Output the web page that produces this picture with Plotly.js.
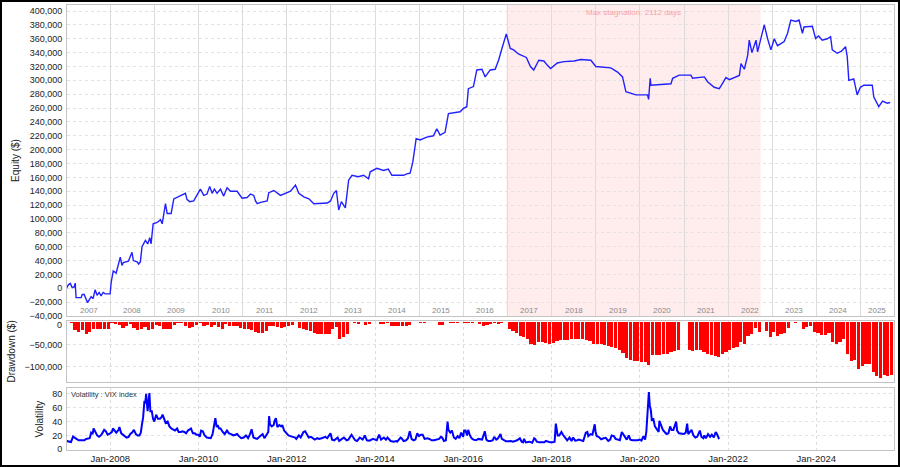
<!DOCTYPE html>
<html><head><meta charset="utf-8">
<script src="https://cdn.plot.ly/plotly-3.0.1.min.js"></script>
<style>
html,body{margin:0;padding:0;background:#fff}
#wrap{position:relative;width:900px;height:467px}
#chart{width:900px;height:467px}
#frame{position:absolute;left:0;top:0;width:900px;height:467px;border:2px solid #000;box-sizing:border-box;pointer-events:none}
</style>
</head><body><div id="wrap"><div id="chart"></div><div id="frame"></div></div>
<script>
// ---------- Equity curve ----------
const equityDates = [
"2007-01-03","2007-01-19","2007-02-04","2007-02-20","2007-03-08","2007-03-17","2007-03-24","2007-05-05","2007-05-14","2007-05-30",
"2007-06-27","2007-07-10","2007-07-27","2007-08-12","2007-08-29","2007-09-14","2007-10-01","2007-10-17","2007-11-03","2007-11-20",
"2007-12-31","2008-01-09","2008-01-26","2008-02-19","2008-03-24","2008-04-07","2008-04-18","2008-05-30","2008-06-29","2008-07-10",
"2008-08-10","2008-08-23","2008-09-06","2008-09-20","2008-10-18","2008-11-06","2008-11-23","2008-12-04","2008-12-21","2009-01-23",
"2009-02-20","2009-03-06","2009-03-19","2009-04-02","2009-04-16","2009-05-19","2009-06-10","2009-07-08","2009-08-04","2009-09-14",
"2009-09-28","2009-10-20","2009-11-22","2009-12-20","2010-01-16","2010-02-13","2010-03-12","2010-04-03","2010-04-23","2010-05-12",
"2010-06-03","2010-07-01","2010-07-28","2010-08-25","2010-09-22","2010-11-16","2010-12-27","2011-02-07","2011-03-07","2011-04-03",
"2011-04-17","2011-05-01","2011-05-29","2011-07-23","2011-08-05","2011-09-16","2011-11-10","2012-02-01","2012-03-13","2012-04-10",
"2012-04-24","2012-05-21","2012-07-02","2012-08-12","2012-12-01","2012-12-28","2013-01-24","2013-02-15","2013-03-06","2013-03-28",
"2013-04-30","2013-05-27","2013-06-24","2013-08-15","2013-09-28","2013-11-08","2013-11-22","2014-01-16","2014-03-12","2014-04-20",
"2014-05-20","2014-08-24","2014-09-21","2014-10-18","2014-11-09","2014-12-07","2015-01-09","2015-03-05","2015-04-29","2015-05-27",
"2015-06-23","2015-08-03","2015-08-31","2015-12-06","2016-01-02","2016-01-30","2016-02-12","2016-03-25","2016-04-22","2016-06-03",
"2016-06-30","2016-08-11","2016-09-21","2016-10-19","2016-11-16","2016-12-22","2017-01-24","2017-02-21","2017-04-01","2017-05-01",
"2017-06-06","2017-07-10","2017-08-06","2017-09-17","2017-10-29","2017-11-26","2017-12-24","2018-02-17","2018-04-13","2018-07-06",
"2018-08-31","2018-11-22","2019-01-02","2019-05-06","2019-07-01","2019-08-11","2019-09-08","2019-11-30","2020-03-05","2020-03-14",
"2020-03-27","2020-04-02","2020-06-10","2020-09-15","2020-09-29","2020-11-22","2021-02-27","2021-03-13","2021-06-18","2021-07-15",
"2021-09-08","2021-10-20","2021-11-17","2021-12-14","2022-01-11","2022-04-04","2022-04-18","2022-05-15","2022-06-12","2022-06-25",
"2022-07-17","2022-08-20","2022-09-02","2022-09-30","2022-10-27","2022-11-24","2022-12-21","2023-01-18","2023-02-14","2023-04-10",
"2023-05-08","2023-06-04","2023-07-15","2023-08-11","2023-09-08","2023-09-21","2023-11-29","2023-12-26","2024-01-20","2024-02-19",
"2024-04-01","2024-04-28","2024-05-12","2024-06-22","2024-07-27","2024-08-30","2024-09-13","2024-09-26","2024-11-06","2024-12-04",
"2024-12-31","2025-01-28","2025-04-08","2025-04-21","2025-06-01","2025-07-02","2025-08-10","2025-09-03"];
const equityValues = [
0,5000,7000,1000,2000,7500,-13500,-13500,-9000,-9000,
-20700,-16000,-12000,-15000,-2000,-10000,-6000,-11000,-6000,-8000,
-8000,9000,25000,22000,45000,33000,37000,39000,52000,40000,
38000,35000,38000,60000,69000,64000,73000,64000,93000,95000,
99000,93000,108000,122000,108000,108000,129000,131000,133000,137000,
128000,125000,126000,134000,143000,134000,136000,147000,137000,143000,
137000,143000,133000,145000,140000,140000,130000,131000,136000,134000,
126000,122000,124000,126000,138000,141000,134000,140000,149000,137000,
135000,132000,129000,122000,123000,126000,137000,141000,113000,125000,
116000,156000,163000,161000,163000,158000,168000,173000,170000,172000,
163000,163000,165000,166000,182000,216000,214000,218000,220000,230000,
221000,225000,252000,254600,259500,262000,288000,291000,315000,316000,
305000,315000,316000,329000,346000,367000,346000,344000,338000,336000,
333000,320000,315000,329000,328000,322000,317000,325000,327000,328000,
330000,329000,320000,318000,312000,305000,283500,279000,279000,272500,
303000,293000,294000,295000,303000,307600,307600,303000,305000,298000,
290000,288000,296000,304000,301000,307000,324000,316000,336000,358000,
340000,358000,341000,363000,380000,360000,344000,360000,350000,356000,
368000,387000,385000,387000,368000,377000,378000,360500,364000,358000,
360000,363000,344000,339000,342000,348500,334000,300000,302000,279000,
290000,293000,293000,276000,262000,270000,267000,268000];

// ---------- Drawdown (monthly, Jan 2007 .. Sep 2025) ----------
const ddStartYear = 2007;
const ddValues = [
0,-2000,-17000,-21000,-18000,-27000,-22000,-15000,-16000,-15000,-14000,-15000,
-2000,-3000,-5000,-12000,-8000,-3000,-12000,-17000,-14000,-10000,-17000,-14000,
-6000,-8000,-15000,-14000,-15000,-5000,-2000,-2000,-9000,-12000,-11000,-5000,
-2000,-9000,-7000,-10000,-5000,-10000,-15000,-3000,-8000,-8000,-9000,-13000,
-14000,-15000,-17000,-21000,-24000,-23000,-20000,-9000,-8000,-10000,-12000,-10000,
-8000,-5000,0,-12000,-15000,-17000,-19000,-24000,-27000,-27000,-27000,-26000,
-14000,-10000,-38000,-33000,-26000,0,-2000,-3000,0,-5000,-3000,0,
0,-3000,-3000,-2000,-9000,-9000,-9000,-9000,-8000,-7000,0,0,
-2000,-1000,0,0,0,-7000,-5000,0,-2000,-1000,-1000,0,
-1000,-1000,-2000,0,-4000,-8000,-5000,-3000,-2000,-3000,-2000,0,
-15000,-20000,-25000,-30000,-33000,-38000,-48000,-51000,-45000,-44000,-46000,-48000,
-46000,-42000,-40000,-40000,-39000,-38000,-38000,-37000,-37000,-40000,-42000,-48000,
-48000,-49000,-50000,-52000,-55000,-58000,-62000,-68000,-80000,-84000,-86000,-87000,
-88000,-88000,-96000,-74000,-73000,-73000,-72000,-72000,-66000,-64000,-62000,0,
0,-62000,-64000,-63000,-63000,-66000,-70000,-74000,-76000,-77000,-72000,-66000,
-63000,-58000,-55000,-45000,-48000,-30000,-27000,-12000,-22000,0,-20000,-34000,
-22000,-30000,-27000,-24000,-12000,0,-2000,0,-15000,-10000,-9000,-22000,
-23000,-29000,-28000,-24000,-43000,-48000,-45000,-38000,-70000,-86000,-85000,-105000,
-97000,-94000,-94000,-111000,-120000,-125000,-117000,-120000,-119000];

// ---------- VIX index ----------
const vixDates = [
"2007-01-03","2007-01-20","2007-02-10","2007-02-27","2007-03-14","2007-03-30","2007-04-15","2007-05-01","2007-05-15","2007-06-01","2007-06-15","2007-07-01","2007-07-15","2007-07-27","2007-08-08","2007-08-16","2007-08-30","2007-09-15","2007-09-30","2007-10-15","2007-10-26","2007-11-12","2007-11-26","2007-12-10","2007-12-31",
"2008-01-15","2008-01-23","2008-02-05","2008-02-20","2008-03-10","2008-03-17","2008-04-01","2008-04-15","2008-05-01","2008-05-15","2008-06-01","2008-06-15","2008-06-30","2008-07-15","2008-07-31","2008-08-15","2008-08-29","2008-09-10","2008-09-17","2008-09-29","2008-10-10","2008-10-16","2008-10-24","2008-11-05","2008-11-20","2008-11-28","2008-12-10","2008-12-20","2008-12-31",
"2009-01-15","2009-01-30","2009-02-15","2009-02-27","2009-03-09","2009-03-20","2009-04-03","2009-04-20","2009-05-05","2009-05-20","2009-06-05","2009-06-20","2009-07-07","2009-07-20","2009-08-07","2009-08-20","2009-09-05","2009-09-20","2009-10-05","2009-10-30","2009-11-15","2009-12-01","2009-12-15","2009-12-31",
"2010-01-11","2010-01-22","2010-02-05","2010-02-20","2010-03-10","2010-03-25","2010-04-12","2010-04-27","2010-05-06","2010-05-20","2010-05-31","2010-06-08","2010-06-20","2010-07-02","2010-07-20","2010-08-05","2010-08-24","2010-09-10","2010-09-28","2010-10-15","2010-11-01","2010-11-16","2010-12-01","2010-12-20",
"2011-01-10","2011-01-28","2011-02-15","2011-03-01","2011-03-16","2011-03-31","2011-04-15","2011-05-01","2011-05-20","2011-06-15","2011-06-30","2011-07-15","2011-08-01","2011-08-08","2011-08-15","2011-08-30","2011-09-15","2011-09-22","2011-10-03","2011-10-15","2011-10-31","2011-11-15","2011-11-25","2011-12-10","2011-12-30",
"2012-01-15","2012-01-31","2012-02-15","2012-03-10","2012-03-20","2012-04-10","2012-04-25","2012-05-18","2012-06-01","2012-06-15","2012-07-01","2012-07-20","2012-08-05","2012-08-20","2012-09-10","2012-09-25","2012-10-15","2012-11-15","2012-12-01","2012-12-28",
"2013-01-10","2013-01-28","2013-02-25","2013-03-10","2013-03-25","2013-04-18","2013-05-10","2013-05-25","2013-06-20","2013-07-05","2013-07-20","2013-08-05","2013-08-27","2013-09-05","2013-09-20","2013-10-08","2013-10-25","2013-11-15","2013-12-15","2013-12-31",
"2014-01-15","2014-02-03","2014-02-20","2014-03-15","2014-04-01","2014-04-14","2014-05-10","2014-06-05","2014-06-25","2014-07-03","2014-07-31","2014-08-08","2014-08-25","2014-09-15","2014-09-30","2014-10-15","2014-10-30","2014-11-15","2014-12-01","2014-12-16","2014-12-31",
"2015-01-15","2015-01-30","2015-02-15","2015-03-10","2015-03-25","2015-04-15","2015-05-05","2015-05-25","2015-06-15","2015-06-30","2015-07-10","2015-07-25","2015-08-10","2015-08-24","2015-08-31","2015-09-15","2015-09-29","2015-10-15","2015-10-30","2015-11-15","2015-11-30","2015-12-14","2015-12-31",
"2016-01-08","2016-01-20","2016-02-01","2016-02-11","2016-02-25","2016-03-10","2016-03-25","2016-04-15","2016-05-05","2016-05-20","2016-06-05","2016-06-16","2016-06-27","2016-07-10","2016-07-25","2016-08-15","2016-09-01","2016-09-13","2016-09-30","2016-10-15","2016-11-04","2016-11-15","2016-12-01","2016-12-20",
"2017-01-10","2017-01-30","2017-02-15","2017-03-01","2017-03-22","2017-04-13","2017-04-28","2017-05-09","2017-05-18","2017-06-01","2017-06-15","2017-07-01","2017-07-25","2017-08-10","2017-08-18","2017-09-01","2017-09-20","2017-10-10","2017-11-01","2017-11-15","2017-12-01","2017-12-20",
"2018-01-10","2018-01-26","2018-02-05","2018-02-09","2018-02-20","2018-03-05","2018-03-23","2018-04-05","2018-04-20","2018-05-10","2018-05-29","2018-06-15","2018-06-28","2018-07-15","2018-08-01","2018-08-15","2018-09-01","2018-09-20","2018-10-11","2018-10-24","2018-11-01","2018-11-20","2018-12-05","2018-12-24","2018-12-31",
"2019-01-10","2019-01-25","2019-02-15","2019-03-08","2019-03-25","2019-04-15","2019-05-01","2019-05-13","2019-05-31","2019-06-15","2019-07-01","2019-07-20","2019-08-05","2019-08-15","2019-08-28","2019-09-15","2019-10-02","2019-10-15","2019-11-01","2019-11-25","2019-12-15","2019-12-31",
"2020-01-15","2020-01-31","2020-02-14","2020-02-24","2020-02-28","2020-03-09","2020-03-16","2020-03-24","2020-04-01","2020-04-10","2020-04-21","2020-05-05","2020-05-20","2020-06-05","2020-06-11","2020-06-25","2020-07-10","2020-07-25","2020-08-10","2020-08-25","2020-09-08","2020-09-20","2020-10-05","2020-10-28","2020-11-05","2020-11-20","2020-12-10","2020-12-31",
"2021-01-15","2021-01-27","2021-02-05","2021-02-25","2021-03-04","2021-03-20","2021-04-05","2021-04-20","2021-05-12","2021-05-25","2021-06-10","2021-06-18","2021-07-01","2021-07-19","2021-08-05","2021-08-19","2021-09-05","2021-09-20","2021-10-01","2021-10-15","2021-10-22"];
const vixValues = [
12,11,10.5,18.3,17,14.6,13,13,13,13,15,16,16,24,22,30,24,20,18,20,23,28,26,21,23,
25,30,27,24,28,32,23,21,19,17,18,22,24,28,22,20,20,24,33,46,70,66,80,55,81,55,55,44,40,
50,44,44,46,50,45,38,40,33,30,28,27,30,25,25,26,25,23,27,30,23,23,21,21,
18,27,26,20,17,17,16,22,33,45,32,35,30,30,25,22,27,23,22,20,21,22,19,16,
17,20,16,21,29,17,16,15,18,22,16,20,25,48,36,33,35,41,45,32,35,33,35,27,23,
20,19,18,17,15,20,17,25,26,22,17,18,16,14,16,15,16,18,16,23,
14,13,17,12,14,17,13,14,21,16,13,12,17,16,14,20,13,12.5,15,14,
13,21,14,17,14,17,12,11,12,11,17,16,12,13,16,26,15,13,14,23,19,
21,21,15,16,15,13,13,14,15,18,17,12,13,40,28,24,27,17,15,19,16,24,18,
27,27,20,28,20,16,14,13,15,15,14,20,26,14,12,12,13,18,14,16,22,15,13,11.5,
11.5,12,11,12,13,16,11,10,15,10,11,11,9.5,16,15,11,10,10,10,12,11,10,
10,11,37,33,20,20,25,21,17,13,17,12,17,12.5,13,14,13,12,24,25,19,22,21,36,25,
19,18,14.5,16,16.5,12,14,20,19,15,14,13,25,22,20,14,20,14,13,12.5,13,14,
12.5,18.8,14,25,40,54,82.7,62,57,41,45,33,29,25,41,33,28,25,22,23,33,28,28,40,27,23,22,22,
24,37,22,28,28,20,17,18,27,18,16,20,16,22,18,21,17,25,22,16,17];

// ---------- Labels ----------
const yearLabels = ["2007","2008","2009","2010","2011","2012","2013","2014","2015","2016","2017","2018","2019","2020","2021","2022","2023","2024","2025"];
const ddTickVals = [-50000, -100000];
const ddZeroLabel = "0";
const stagnationStart = "2016-12-24";
const stagnationEnd = "2022-09-27";
const stagnationText = "Max stagnation: 2112 days";
const volLabel = "Volatility : VIX index";

const xStart = "2007-01-08", xEnd = "2025-10-05";

// monthly drawdown dates
const ddDates = ddValues.map((v, i) => {
  const y = ddStartYear + Math.floor(i / 12);
  const m = (i % 12) + 1;
  return y + "-" + String(m).padStart(2, "0") + "-15";
});

const traces = [
  {x: equityDates, y: equityValues, type: "scatter", mode: "lines", xaxis: "x", yaxis: "y",
   line: {color: "#2121ff", width: 1.4}, hoverinfo: "skip"},
  {x: ddDates, y: ddValues, type: "bar", xaxis: "x2", yaxis: "y2",
   marker: {color: "#ff0000", line: {width: 0}}, width: 26 * 86400000, hoverinfo: "skip"},
  {x: vixDates, y: vixValues, type: "scatter", mode: "lines", xaxis: "x3", yaxis: "y3",
   line: {color: "#0000ff", width: 2}, hoverinfo: "skip"}
];

// Year label annotations centered within visible part of each year
const t0 = new Date(xStart).getTime(), t1 = new Date(xEnd).getTime();
const annotations = yearLabels.map(yl => {
  const a = Math.max(new Date(yl + "-01-01").getTime(), t0);
  const b = Math.min(new Date((+yl + 1) + "-01-01").getTime(), t1);
  const mid = new Date((a + b) / 2).toISOString().slice(0, 10);
  return {x: mid, y: -32000, xref: "x", yref: "y", text: yl, showarrow: false,
          font: {size: 8, color: "#8a8a8a"}};
});
annotations.push({
  x: new Date((new Date(stagnationStart).getTime() + new Date(stagnationEnd).getTime()) / 2).toISOString().slice(0, 10),
  y: 1, xref: "x", yref: "y domain", yanchor: "top", yshift: -1, text: stagnationText,
  showarrow: false, font: {size: 8, color: "#f5a3a3"}
});
annotations.push({
  x: 0.003, y: 1, xref: "x3 domain", yref: "y3 domain", xanchor: "left", yanchor: "top", yshift: 0,
  text: volLabel, showarrow: false, font: {size: 7.5, color: "#333"}
});
// "0" label of the drawdown axis, nudged below the equity axis' last label
annotations.push({
  x: 0, y: 0, xref: "paper", yref: "y2", xanchor: "right", yanchor: "middle", xshift: -3, yshift: -3,
  text: ddZeroLabel, showarrow: false, font: {size: 9, color: "#222"}
});

const axLine = {showline: true, mirror: true, linecolor: "#c4c4c4", linewidth: 1, zeroline: false, ticks: ""};
const tf = {size: 9, color: "#222"};
const ttl = {size: 10, color: "#222"};

const layout = {
  width: 900, height: 467,
  margin: {l: 67, r: 6, t: 5, b: 17},
  paper_bgcolor: "#fff", plot_bgcolor: "#fff",
  showlegend: false,
  font: {family: "Liberation Sans, Arial, sans-serif", size: 9, color: "#222"},
  bargap: 0,
  xaxis: Object.assign({}, axLine, {anchor: "y", domain: [0, 1], type: "date", range: [xStart, xEnd],
    showticklabels: false, showgrid: true, gridcolor: "#dcdcdc", gridwidth: 1,
    tick0: "2007-01-01", dtick: "M12"}),
  yaxis: Object.assign({}, axLine, {domain: [0.3011, 1], range: [-40000, 408700], dtick: 20000,
    tickformat: ",d", tickfont: tf, ticklabelstandoff: 2, showgrid: true, gridcolor: "#e2e2e2", griddash: "dot",
    title: {text: "Equity ($)", font: ttl, standoff: 7}}),
  xaxis2: Object.assign({}, axLine, {anchor: "y2", matches: "x", type: "date",
    showticklabels: false, showgrid: true, gridcolor: "#dcdcdc", griddash: "dot",
    tick0: "2008-01-01", dtick: "M24"}),
  yaxis2: Object.assign({}, axLine, {domain: [0.1521, 0.291], range: [-134300, 4000],
    tickvals: ddTickVals, tickformat: ",d", tickfont: tf, ticklabelstandoff: 2, showgrid: true, gridcolor: "#e2e2e2", griddash: "dot",
    title: {text: "Drawdown ($)", font: ttl, standoff: 6}}),
  xaxis3: Object.assign({}, axLine, {anchor: "y3", matches: "x", type: "date",
    showticklabels: true, tickformat: "%b-%Y", showgrid: true, gridcolor: "#dcdcdc", griddash: "dot",
    tick0: "2008-01-01", dtick: "M24", tickfont: {size: 9.5, color: "#222"}}),
  yaxis3: Object.assign({}, axLine, {domain: [0, 0.1387], range: [-1, 88], dtick: 20, tickfont: tf, ticklabelstandoff: 2,
    showgrid: true, gridcolor: "#e2e2e2", griddash: "dot",
    title: {text: "Volatility", font: ttl, standoff: 6}}),
  shapes: [{type: "rect", xref: "x", yref: "y domain", x0: stagnationStart, x1: stagnationEnd, y0: 0, y1: 1,
    fillcolor: "#ffecec", line: {width: 0}, layer: "below"}],
  annotations: annotations
};

Plotly.newPlot("chart", traces, layout, {staticPlot: true, displayModeBar: false});
</script></body></html>
